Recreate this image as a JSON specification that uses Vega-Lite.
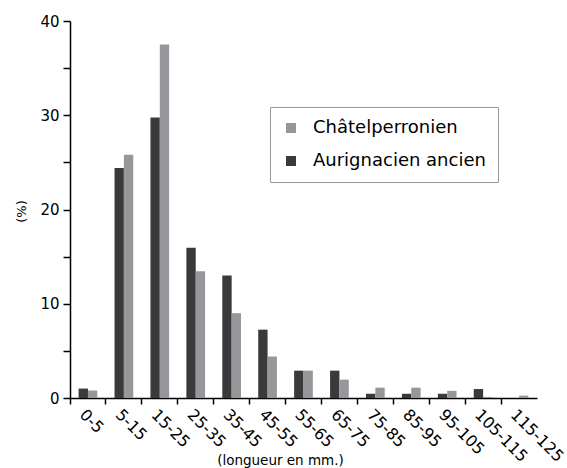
{
  "$schema": "https://vega.github.io/schema/vega-lite/v6.json",
  "autosize": "none",
  "width": 467,
  "height": 377,
  "padding": {"left": 70, "top": 21, "right": 30, "bottom": 70},
  "background": "white",
  "config": {
    "font": "DejaVu Sans",
    "view": {"stroke": null},
    "axis": {"grid": false, "domainColor": "black", "tickColor": "black", "labelColor": "black", "titleColor": "black", "domainWidth": 1.5, "tickWidth": 1.5, "labelFont": "DejaVu Sans", "titleFont": "DejaVu Sans", "titleFontWeight": "normal"}
  },
  "data": {
    "values": [
      {"classe": "0-5", "serie": "Aurignacien ancien", "pct": 1.0},
      {"classe": "0-5", "serie": "Châtelperronien", "pct": 0.8},
      {"classe": "5-15", "serie": "Aurignacien ancien", "pct": 24.4},
      {"classe": "5-15", "serie": "Châtelperronien", "pct": 25.8},
      {"classe": "15-25", "serie": "Aurignacien ancien", "pct": 29.75},
      {"classe": "15-25", "serie": "Châtelperronien", "pct": 37.5},
      {"classe": "25-35", "serie": "Aurignacien ancien", "pct": 15.95},
      {"classe": "25-35", "serie": "Châtelperronien", "pct": 13.45},
      {"classe": "35-45", "serie": "Aurignacien ancien", "pct": 13.0},
      {"classe": "35-45", "serie": "Châtelperronien", "pct": 9.0},
      {"classe": "45-55", "serie": "Aurignacien ancien", "pct": 7.25},
      {"classe": "45-55", "serie": "Châtelperronien", "pct": 4.4},
      {"classe": "55-65", "serie": "Aurignacien ancien", "pct": 2.9},
      {"classe": "55-65", "serie": "Châtelperronien", "pct": 2.9},
      {"classe": "65-75", "serie": "Aurignacien ancien", "pct": 2.9},
      {"classe": "65-75", "serie": "Châtelperronien", "pct": 1.95},
      {"classe": "75-85", "serie": "Aurignacien ancien", "pct": 0.45},
      {"classe": "75-85", "serie": "Châtelperronien", "pct": 1.1},
      {"classe": "85-95", "serie": "Aurignacien ancien", "pct": 0.45},
      {"classe": "85-95", "serie": "Châtelperronien", "pct": 1.1},
      {"classe": "95-105", "serie": "Aurignacien ancien", "pct": 0.45},
      {"classe": "95-105", "serie": "Châtelperronien", "pct": 0.76},
      {"classe": "105-115", "serie": "Aurignacien ancien", "pct": 0.95},
      {"classe": "105-115", "serie": "Châtelperronien", "pct": 0.12},
      {"classe": "115-125", "serie": "Aurignacien ancien", "pct": 0},
      {"classe": "115-125", "serie": "Châtelperronien", "pct": 0.25}
    ]
  },
  "mark": {"type": "bar"},
  "encoding": {
    "x": {
      "field": "classe",
      "type": "nominal",
      "sort": ["0-5","5-15","15-25","25-35","35-45","45-55","55-65","65-75","75-85","85-95","95-105","105-115","115-125"],
      "scale": {"paddingInner": 0, "paddingOuter": 0},
      "axis": {
        "title": "(longueur en mm.)",
        "titleFontSize": 13.5,
        "titleX": 210,
        "titleY": 62,
        "titleBaseline": "middle",
        "bandPosition": 0,
        "labelAngle": 45,
        "labelAlign": "left",
        "labelBaseline": "top",
        "labelFontSize": 16,
        "labelPadding": 2,
        "labelDx": -6,
        "tickSize": 6
      }
    },
    "xOffset": {
      "field": "serie",
      "type": "nominal",
      "sort": ["Aurignacien ancien", "Châtelperronien"],
      "scale": {"paddingInner": 0, "paddingOuter": 0.92}
    },
    "y": {
      "field": "pct",
      "type": "quantitative",
      "scale": {"domain": [0, 40], "nice": false},
      "axis": {
        "title": "(%)",
        "titleFontSize": 13,
        "titleX": -49,
        "titleY": 190,
        "titleAlign": "center",
        "titleBaseline": "middle",
        "values": [0,5,10,15,20,25,30,35,40],
        "labelExpr": "datum.value % 10 === 0 ? datum.label : ''",
        "labelFontSize": 15,
        "labelPadding": 4,
        "tickSize": 7
      }
    },
    "color": {
      "field": "serie",
      "type": "nominal",
      "scale": {"domain": ["Châtelperronien", "Aurignacien ancien"], "range": ["#97979b", "#3a3a3a"]},
      "legend": {
        "title": null,
        "orient": "none",
        "legendX": 200,
        "legendY": 86,
        "direction": "vertical",
        "symbolType": "square",
        "symbolSize": 100,
        "symbolStrokeWidth": 0,
        "labelFontSize": 18,
        "labelFont": "DejaVu Sans",
        "labelColor": "black",
        "labelOffset": 13,
        "labelLimit": 300,
        "rowPadding": 15,
        "padding": 12,
        "strokeColor": "#999999",
        "fillColor": "white"
      }
    }
  }
}
